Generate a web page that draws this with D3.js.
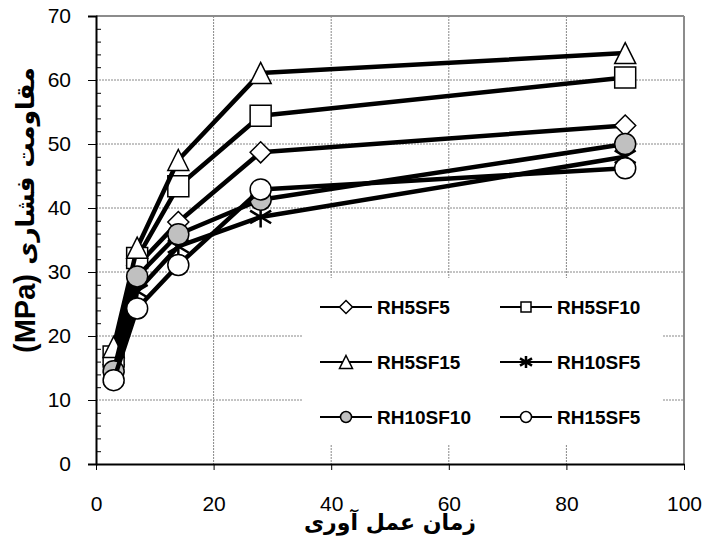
<!DOCTYPE html>
<html>
<head>
<meta charset="utf-8">
<script src="https://cdn.jsdelivr.net/npm/d3@7"></script>
<style>
  body { margin: 0; background: #fff; }
</style>
</head>
<body>
<script>
// curing age (days) and strength (MPa) per mix
const days = [3, 7, 14, 28, 90];
const RH5SF5   = [15.5, 31.0, 37.8, 48.7, 52.9];
const RH5SF10  = [16.8, 32.2, 43.4, 54.4, 60.4];
const RH5SF15  = [18.3, 33.8, 47.5, 61.1, 64.2];
const RH10SF5  = [13.5, 27.0, 34.0, 38.6, 48.0];
const RH10SF10 = [14.5, 29.3, 35.9, 41.3, 50.0];
const RH15SF5  = [13.1, 24.3, 31.1, 42.9, 46.2];

const seriesNames = ["RH5SF5", "RH5SF10", "RH5SF15", "RH10SF5", "RH10SF10", "RH15SF5"];
const seriesValues = [RH5SF5, RH5SF10, RH5SF15, RH10SF5, RH10SF10, RH15SF5];
const markerTypes = ["diamond", "square", "triangle", "star", "circle", "circle"];
const markerFills = ["#fff", "#fff", "#fff", "none", "#c0c0c0", "#fff"];

const xTicks = [0, 20, 40, 60, 80, 100];
const yTicks = [0, 10, 20, 30, 40, 50, 60, 70];

function main(){
    const width = 704;
    const height = 540;
    const left = 96, right = 684, top = 16, bottom = 464;
    const font = "'Liberation Sans', Arial, sans-serif";

    const svg = d3.select("body").append("svg")
        .attr("width", width)
        .attr("height", height)
        .style("font-family", font);

    const x = d3.scaleLinear().domain([0, 100]).range([left, right]);
    const y = d3.scaleLinear().domain([0, 70]).range([bottom, top]);

    // grid
    svg.append("g").selectAll("line")
        .data(yTicks.filter(d => d > 0 && d < 70))
        .enter().append("line")
        .attr("x1", left).attr("x2", right)
        .attr("y1", d => y(d)).attr("y2", d => y(d))
        .attr("stroke", "#888").attr("stroke-width", 1)
        .attr("stroke-dasharray", "2,1");
    svg.append("g").selectAll("line")
        .data(xTicks.filter(d => d > 0 && d < 100))
        .enter().append("line")
        .attr("y1", top).attr("y2", bottom)
        .attr("x1", d => x(d)).attr("x2", d => x(d))
        .attr("stroke", "#888").attr("stroke-width", 1)
        .attr("stroke-dasharray", "2,1");

    // frame (top and right in grey)
    svg.append("line").attr("x1", left).attr("x2", right).attr("y1", top).attr("y2", top)
        .attr("stroke", "#8c8c8c").attr("stroke-width", 2);
    svg.append("line").attr("x1", right).attr("x2", right).attr("y1", top).attr("y2", bottom)
        .attr("stroke", "#8c8c8c").attr("stroke-width", 2);

    // y axis
    const yAxis = svg.append("g")
        .attr("transform", "translate(" + left + ",0)")
        .call(d3.axisLeft(y).tickValues(yTicks).tickSize(8).tickPadding(17));
    yAxis.select(".domain").attr("stroke-width", 2);
    yAxis.selectAll("text").attr("font-size", "21px").attr("font-family", font).attr("fill", "#000");

    // minor ticks inside
    svg.append("g")
        .attr("transform", "translate(" + left + ",0)")
        .call(d3.axisRight(y).tickValues(d3.range(2, 70, 2).filter(d => d % 10 !== 0)).tickSize(5).tickFormat(""))
        .select(".domain").remove();

    // x axis
    const xAxis = svg.append("g")
        .attr("transform", "translate(0," + bottom + ")")
        .call(d3.axisBottom(x).tickValues(xTicks).tickSize(6).tickSizeOuter(0));
    xAxis.select(".domain").attr("stroke-width", 2);
    xAxis.selectAll("text")
        .attr("font-size", "21px")
        .attr("font-family", font)
        .attr("fill", "#000")
        .attr("y", 47).attr("dy", 0);

    // marker shapes
    function markerPath(type, s){
        if(type === "diamond") return "M0," + (-s) + "L" + s + ",0L0," + s + "L" + (-s) + ",0Z";
        if(type === "square") return "M" + (-s) + "," + (-s) + "H" + s + "V" + s + "H" + (-s) + "Z";
        if(type === "triangle") return "M0," + (-s) + "L" + s + "," + s + "L" + (-s) + "," + s + "Z";
        if(type === "star") return "M0," + (-s) + "V" + s +
            "M" + (-s) + "," + (-s * 0.6) + "L" + s + "," + (s * 0.6) +
            "M" + (-s) + "," + (s * 0.6) + "L" + s + "," + (-s * 0.6);
        return null;
    }
    function drawMarker(g, type, fill, s, px, py){
        if(type === "circle"){
            g.append("circle").attr("cx", px).attr("cy", py).attr("r", s)
                .attr("fill", fill).attr("stroke", "#000").attr("stroke-width", 1.5);
        } else {
            g.append("path").attr("d", markerPath(type, s))
                .attr("transform", "translate(" + px + "," + py + ")")
                .attr("fill", fill).attr("stroke", "#000")
                .attr("stroke-width", type === "star" ? 2.5 : 1.5);
        }
    }

    const line = d3.line().x(d => x(d[0])).y(d => y(d[1]));

    seriesValues.forEach((vals, i) => {
        const pts = days.map((d, j) => [d, vals[j]]);
        const g = svg.append("g");
        g.append("path")
            .attr("d", line(pts))
            .attr("fill", "none")
            .attr("stroke", "#000")
            .attr("stroke-width", 4.5)
            .attr("stroke-linejoin", "round");
        pts.forEach(p => drawMarker(g, markerTypes[i], markerFills[i], 10.5, x(p[0]), y(p[1])));
    });

    // legend
    const legendSize = {diamond: 6.5, square: 5, triangle: 6.5, star: 6, circle: 5.5};
    const legend = svg.append("g");
    legend.append("rect")
        .attr("x", 303).attr("y", 278)
        .attr("width", 360).attr("height", 167)
        .attr("fill", "#fff");
    seriesNames.forEach((name, i) => {
        const col = i % 2, row = Math.floor(i / 2);
        const lx = col === 0 ? 320 : 500;
        const ly = 307 + row * 55;
        legend.append("line")
            .attr("x1", lx).attr("x2", lx + 52)
            .attr("y1", ly).attr("y2", ly)
            .attr("stroke", "#000").attr("stroke-width", 2);
        drawMarker(legend, markerTypes[i], markerFills[i], legendSize[markerTypes[i]], lx + 26, ly);
        legend.append("text")
            .attr("x", lx + 57).attr("y", ly)
            .attr("dy", "0.36em")
            .attr("font-size", "19px")
            .attr("font-weight", "bold")
            .text(name);
    });

    // axis titles
    svg.append("text")
        .attr("x", (left + right) / 2)
        .attr("y", 530)
        .attr("text-anchor", "middle")
        .attr("font-size", "22px")
        .attr("font-weight", "bold")
        .attr("font-family", "'DejaVu Sans', sans-serif")
        .attr("direction", "rtl")
        .text("زمان عمل آوری");

    svg.append("text")
        .attr("transform", "translate(35,353) rotate(-90)")
        .attr("text-anchor", "start")
        .attr("font-size", "29px")
        .attr("font-weight", "bold")
        .text("(MPa)");
    svg.append("text")
        .attr("transform", "translate(34,166) rotate(-90)")
        .attr("text-anchor", "middle")
        .attr("font-size", "25px")
        .attr("font-weight", "bold")
        .attr("font-family", "'DejaVu Sans', sans-serif")
        .attr("direction", "rtl")
        .text("مقاومت فشاری");
}

main();
</script>
</body>
</html>
